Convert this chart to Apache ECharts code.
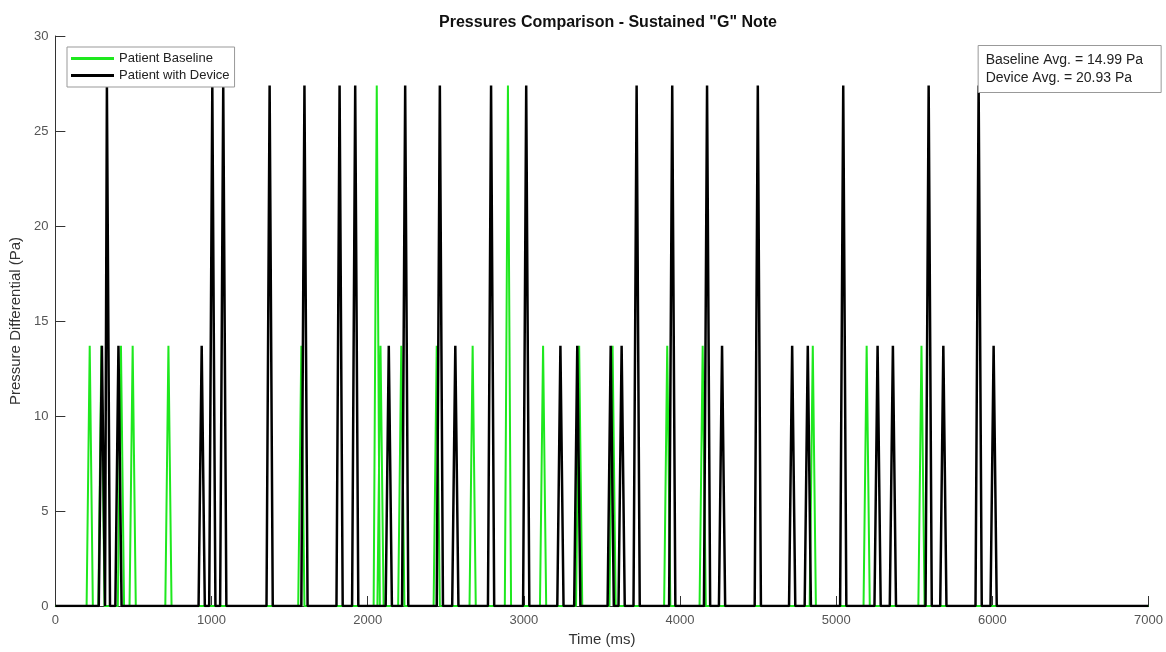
<!DOCTYPE html>
<html>
<head>
<meta charset="utf-8">
<script src="https://cdn.jsdelivr.net/npm/echarts@6/dist/echarts.min.js"></script>
<style>
    html, body {margin: 0; padding: 0; background: #fff;}
    #main {width: 1166px; height: 652px;}
</style>
</head>
<body>
<div id="main"></div>
<script>
// spike times (ms) and peak heights (Pa)
var baselineTimes = [220, 295, 420, 495, 724, 1575, 2058, 2082, 2215, 2442, 2672, 2898, 3123, 3354, 3568, 3918, 4145, 4850, 5195, 5546];
var baselinePeaks = [13.7, 13.7, 13.7, 13.7, 13.7, 13.7, 27.4, 13.7, 13.7, 13.7, 13.7, 27.4, 13.7, 13.7, 13.7, 13.7, 13.7, 13.7, 13.7, 13.7];

var deviceTimes = [298, 330, 404, 937, 1005, 1075, 1372, 1595, 1820, 1920, 2135, 2240, 2462, 2561, 2790, 3015, 3234, 3342, 3556, 3626,
    3722, 3950, 4173, 4269, 4498, 4718, 4818, 5045, 5265, 5363, 5592, 5686, 5912, 6008];
var devicePeaks = [13.7, 27.4, 13.7, 13.7, 27.4, 27.4, 27.4, 27.4, 27.4, 27.4, 13.7, 27.4, 27.4, 13.7, 27.4, 27.4, 13.7, 13.7, 13.7, 13.7,
    27.4, 27.4, 27.4, 13.7, 27.4, 13.7, 13.7, 27.4, 13.7, 13.7, 27.4, 13.7, 27.4, 13.7];

var xTicks = [0, 1000, 2000, 3000, 4000, 5000, 6000, 7000];
var yTicks = [0, 5, 10, 15, 20, 25, 30];

// half width of a spike at its base (ms), one sample each side
var halfWidth = 20;
var traceEnd = 7000;

function buildTrace(times, peaks) {
    var pts = [[0, 0]];
    for (var i = 0; i < times.length; i++) {
        pts.push([times[i] - halfWidth, 0]);
        pts.push([times[i], peaks[i]]);
        pts.push([times[i] + halfWidth, 0]);
    }
    pts.push([traceEnd, 0]);
    return pts;
}

var myChart = echarts.init(document.getElementById('main'));

var axisColor = '#333';
var font = 'Liberation Sans, Arial, sans-serif';

var option = {
    backgroundColor: '#fff',
    animation: false,
    textStyle: {fontFamily: font},
    title: [
        {
            text: 'Pressures Comparison - Sustained "G" Note',
            left: 603,
            textAlign: 'center',
            top: 10,
            textStyle: {fontSize: 16, fontWeight: 'bold', color: '#111', fontFamily: font}
        },
        {
            text: 'Baseline Avg. = 14.99 Pa\nDevice Avg. = 20.93 Pa',
            right: 5,
            top: 45,
            borderWidth: 1,
            borderColor: '#999',
            backgroundColor: '#fff',
            padding: [6, 18, 6, 8],
            textStyle: {fontSize: 14, fontWeight: 'normal', color: '#222', lineHeight: 18, fontFamily: font}
        }
    ],
    legend: {
        orient: 'vertical',
        left: 67,
        top: 47,
        padding: [4, 5, 4, 4],
        itemGap: 2,
        itemWidth: 43,
        itemHeight: 3,
        icon: 'rect',
        backgroundColor: '#fff',
        borderColor: '#999',
        borderWidth: 1,
        textStyle: {fontSize: 13, color: '#222', fontFamily: font, lineHeight: 15},
        data: ['Patient Baseline', 'Patient with Device']
    },
    grid: {left: 55, right: 15, top: 36, bottom: 45, containLabel: false},
    xAxis: {
        type: 'value',
        min: xTicks[0],
        max: xTicks[xTicks.length - 1],
        interval: 1000,
        name: 'Time (ms)',
        nameLocation: 'middle',
        nameGap: 26,
        nameTextStyle: {fontSize: 15, color: '#333', fontFamily: font},
        axisLine: {lineStyle: {color: axisColor, width: 1}},
        axisTick: {inside: true, length: 10, lineStyle: {color: axisColor}},
        axisLabel: {
            fontSize: 13, color: '#555', margin: 8, fontFamily: font,
            formatter: function (v) { return String(v); }
        },
        splitLine: {show: false}
    },
    yAxis: {
        type: 'value',
        min: yTicks[0],
        max: yTicks[yTicks.length - 1],
        interval: 5,
        name: 'Pressure Differential (Pa)',
        nameLocation: 'middle',
        nameGap: 30,
        nameTextStyle: {fontSize: 15, color: '#333', fontFamily: font},
        axisLine: {show: true, lineStyle: {color: axisColor, width: 1}},
        axisTick: {show: true, inside: true, length: 10, lineStyle: {color: axisColor}},
        axisLabel: {fontSize: 13, color: '#555', margin: 7, fontFamily: font},
        splitLine: {show: false}
    },
    series: [
        {
            name: 'Patient Baseline',
            type: 'line',
            symbol: 'none',
            color: '#1ee81e',
            lineStyle: {color: '#1ee81e', width: 2},
            data: buildTrace(baselineTimes, baselinePeaks)
        },
        {
            name: 'Patient with Device',
            type: 'line',
            symbol: 'none',
            color: '#000',
            lineStyle: {color: '#000', width: 2.5},
            data: buildTrace(deviceTimes, devicePeaks)
        }
    ]
};

myChart.setOption(option);
</script>
</body>
</html>
